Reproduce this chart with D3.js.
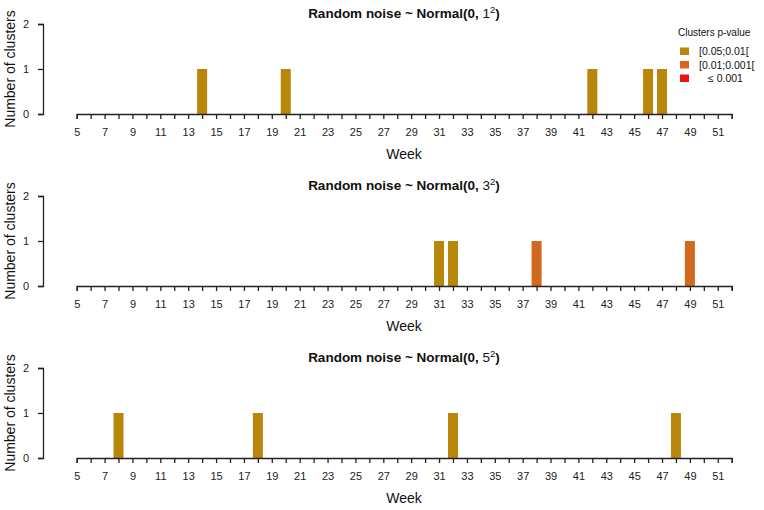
<!DOCTYPE html>
<html>
<head>
<meta charset="utf-8">
<script src="https://cdn.jsdelivr.net/npm/d3@7"></script>
<style>
  body { margin: 0; background: #fff; }
  svg { font-family: "Liberation Sans", Arial, sans-serif; }
  .tick text { fill: #222; }
</style>
</head>
<body>
<div id="chart"></div>
<script>
// data
const sigmas = ["1", "3", "5"];
const allWeeks = [5, 6, 7, 8, 9, 10, 11, 12, 13, 14, 15, 16, 17, 18, 19, 20, 21, 22, 23, 24, 25, 26, 27, 28,
  29, 30, 31, 32, 33, 34, 35, 36, 37, 38, 39, 40, 41, 42, 43, 44, 45, 46, 47, 48, 49, 50, 51, 52];
const weekLabels = [5, 7, 9, 11, 13, 15, 17, 19, 21, 23, 25, 27, 29, 31, 33, 35, 37, 39, 41, 43, 45, 47, 49, 51];
const yTicks = [0, 1, 2];

// clusters per panel: week, count, p-value class (0..2)
const weeks1 = [14, 20, 42, 46, 47];
const counts1 = [1, 1, 1, 1, 1];
const levels1 = [0, 0, 0, 0, 0];

const weeks2 = [31, 32, 38, 49];
const counts2 = [1, 1, 1, 1];
const levels2 = [0, 0, 1, 1];

const weeks3 = [8, 18, 32, 48];
const counts3 = [1, 1, 1, 1];
const levels3 = [0, 0, 0, 0];

const legendLabels = ["[0.05;0.01[", "[0.01;0.001[", "\u2264 0.001"];
const legendColors = ["#B8860B", "#D2691E", "#EE1111"];

const panels = [
  { sigma: sigmas[0], weeks: weeks1, counts: counts1, levels: levels1 },
  { sigma: sigmas[1], weeks: weeks2, counts: counts2, levels: levels2 },
  { sigma: sigmas[2], weeks: weeks3, counts: counts3, levels: levels3 }
];

const svgWidth = 764;
const svgHeight = 510;
const panelStep = 172;
const baseY = 114;      // zero line of the first panel
const plotH = 90;       // 0..2
const barW = 10;

const svg = d3.select('#chart')
  .append('svg')
  .attr('width', svgWidth)
  .attr('height', svgHeight);

const x = d3.scaleLinear()
  .domain([5, 52])
  .range([76.7, 731.7]);

const color = d3.scaleOrdinal()
  .domain([0, 1, 2])
  .range(legendColors);

panels.forEach((p, i) => {
  const g = svg.append('g')
    .attr('transform', `translate(0,${i * panelStep})`);

  const y = d3.scaleLinear()
    .domain([0, 2])
    .range([baseY, baseY - plotH]);

  const bars = p.weeks.map((w, j) => ({ week: w, count: p.counts[j], level: p.levels[j] }));

  g.selectAll('rect.bar')
    .data(bars)
    .enter()
    .append('rect')
    .attr('class', 'bar')
    .attr('x', d => x(d.week) - barW / 2)
    .attr('y', d => y(d.count))
    .attr('width', barW)
    .attr('height', d => y(0) - y(d.count))
    .attr('fill', d => color(d.level));

  // x axis
  const xAxis = g.append('g')
    .attr('transform', `translate(0,${baseY})`)
    .call(d3.axisBottom(x)
      .tickValues(allWeeks)
      .tickSizeOuter(0)
      .tickSize(5)
      .tickPadding(9)
      .tickFormat(d => weekLabels.includes(d) ? d : ''));
  xAxis.selectAll('line, path').attr('stroke', '#222').attr('stroke-width', 1.3);
  xAxis.selectAll('text').style('font-size', '11px');

  // y axis
  const yAxis = g.append('g')
    .attr('transform', 'translate(43,0)')
    .call(d3.axisLeft(y)
      .tickValues(yTicks)
      .tickSizeOuter(0)
      .tickSize(5)
      .tickPadding(9)
      .tickFormat(d3.format('d')));
  yAxis.selectAll('line, path').attr('stroke', '#222').attr('stroke-width', 1.3);
  yAxis.selectAll('text').style('font-size', '11px');

  // title
  const t = g.append('text')
    .attr('x', 404)
    .attr('y', 18)
    .attr('text-anchor', 'middle')
    .style('font-size', '13.5px')
    .style('font-weight', 'bold')
    .attr('fill', '#111');
  t.append('tspan').text('Random noise ~ Normal(0, ');
  t.append('tspan').style('font-weight', 'normal').text(p.sigma);
  t.append('tspan').attr('dy', -5).style('font-size', '9.5px').style('font-weight', 'normal').text('2');
  t.append('tspan').attr('dy', 5).text(')');

  g.append('text')
    .attr('x', 404)
    .attr('y', 159)
    .attr('text-anchor', 'middle')
    .style('font-size', '14px')
    .attr('fill', '#111')
    .text('Week');

  g.append('text')
    .attr('transform', `translate(15,69) rotate(-90)`)
    .attr('text-anchor', 'middle')
    .style('font-size', '14px')
    .attr('fill', '#111')
    .text('Number of clusters');
});

// legend
const legend = svg.append('g').attr('transform', 'translate(678,0)');
legend.append('text')
  .attr('x', 0)
  .attr('y', 36)
  .style('font-size', '10px')
  .attr('fill', '#111')
  .text('Clusters p-value');

legend.selectAll('rect')
  .data(legendLabels)
  .enter()
  .append('rect')
  .attr('x', 2)
  .attr('y', (d, i) => 47.5 + i * 13.5)
  .attr('width', 9)
  .attr('height', 7.5)
  .attr('fill', (d, i) => legendColors[i]);

legend.selectAll('text.lab')
  .data(legendLabels)
  .enter()
  .append('text')
  .attr('class', 'lab')
  .attr('x', (d, i) => i === 2 ? 30 : 21)
  .attr('y', (d, i) => 55 + i * 13.5)
  .style('font-size', '10.5px')
  .attr('fill', '#111')
  .text(d => d);
</script>
</body>
</html>
